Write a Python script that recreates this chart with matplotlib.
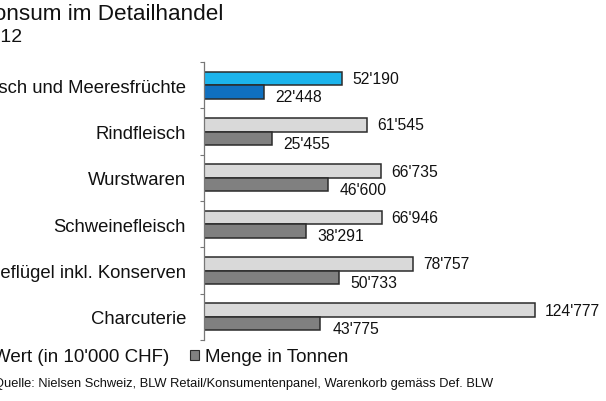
import matplotlib
matplotlib.use("Agg")
import matplotlib.pyplot as plt
from matplotlib.patches import Patch

plt.rcParams['font.family'] = ['Liberation Sans', 'DejaVu Sans']

categories = ["Fisch und Meeresfrüchte", "Rindfleisch", "Wurstwaren",
              "Schweinefleisch", "Geflügel inkl. Konserven", "Charcuterie"]
wert = [52190, 61545, 66735, 66946, 78757, 124777]
menge = [22448, 25455, 46600, 38291, 50733, 43775]
wert_labels = ["52'190", "61'545", "66'735", "66'946", "78'757", "124'777"]
menge_labels = ["22'448", "25'455", "46'600", "38'291", "50'733", "43'775"]
legend_labels = ["Wert (in 10'000 CHF)", "Menge in Tonnen"]
title = "Fleischkonsum im Detailhandel"
subtitle = "Jahr 2012"
source = "Quelle: Nielsen Schweiz, BLW Retail/Konsumentenpanel, Warenkorb gemäss Def. BLW"

W, H = 606, 402
fig = plt.figure(figsize=(W / 100, H / 100), dpi=100)
ax_left, ax_top, ax_bottom, ax_w = 204, 63, 341, 390
ax = fig.add_axes([ax_left / W, 1 - ax_bottom / H, ax_w / W, (ax_bottom - ax_top) / H])

units_per_px = 1 / 0.002653
ax.set_xlim(0, ax_w * units_per_px)
ax.set_ylim(len(categories) - 0.5, -0.5)

h = 0.29
light, dark = '#d9d9d9', '#808080'
blue_light, blue_dark = '#1cb4ec', '#1070c0'
edge = '#2b2b2b'
ypos = list(range(len(categories)))
wcols = [blue_light] + [light] * (len(categories) - 1)
mcols = [blue_dark] + [dark] * (len(categories) - 1)

ax.barh([y - h / 2 for y in ypos], wert, height=h, color=wcols, edgecolor=edge, linewidth=1.1)
ax.barh([y + h / 2 for y in ypos], menge, height=h, color=mcols, edgecolor=edge, linewidth=1.1)

for y, v, lab in zip(ypos, wert, wert_labels):
    ax.annotate(lab, (v, y - h / 2), xytext=(10, 0), textcoords='offset pixels',
                ha='left', va='center', fontsize=11.3, color='#111111', annotation_clip=False)
for y, v, lab in zip(ypos, menge, menge_labels):
    ax.annotate(lab, (v, y + h / 2), xytext=(12, -5), textcoords='offset pixels',
                ha='left', va='center', fontsize=11.3, color='#111111', annotation_clip=False)

ax.set_yticks(ypos)
ax.set_yticklabels(categories, fontsize=13.3, color='#111111')
ax.set_yticks([y + 0.5 for y in [-1] + ypos], minor=True)
ax.tick_params(axis='y', which='major', length=0, pad=13)
ax.tick_params(axis='y', which='minor', length=3, width=0.8, color='#777777', direction='out')
ax.set_xticks([])
for s in ['top', 'right', 'bottom']:
    ax.spines[s].set_visible(False)
ax.spines['left'].set_color('#777777')
ax.spines['left'].set_linewidth(0.9)

fig.text(223 / W, 1 - 15 / H, title, ha='right', va='center', fontsize=16.2, color='#111111')
fig.text(22 / W, 1 - 38 / H, subtitle, ha='right', va='center', fontsize=14, color='#111111')
fig.text(493 / W, 1 - 384 / H, source, ha='right', va='center', fontsize=9.3, color='#111111')

handles = [Patch(facecolor=light, edgecolor=edge, linewidth=0.8),
           Patch(facecolor=dark, edgecolor=edge, linewidth=0.8)]
fig.legend(handles, legend_labels, loc='center right', bbox_to_anchor=(348 / W, 1 - 358 / H),
           ncol=2, frameon=False, fontsize=13.5, handlelength=0.5, handleheight=0.5,
           handletextpad=0.3, columnspacing=1.1, borderpad=0, borderaxespad=0,
           labelcolor='#111111')

fig.savefig('out.png', dpi=100)
